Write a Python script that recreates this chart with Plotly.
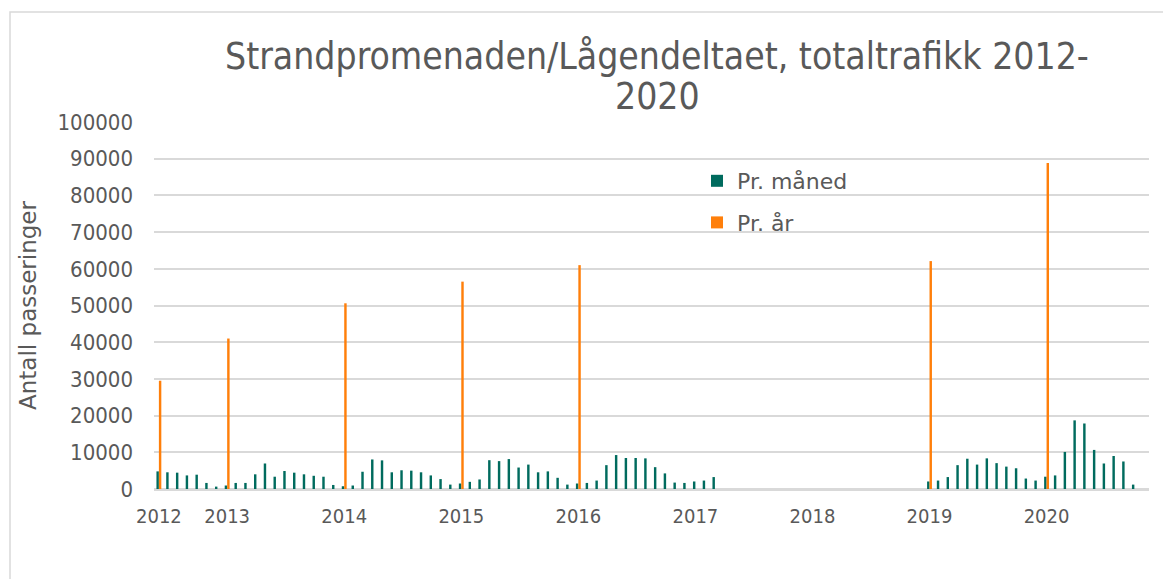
import plotly.graph_objects as go

# Categories: months from June 2012 to November 2020
months = []
for y in range(2012, 2021):
    for m in range(1, 13):
        if (y == 2012 and m < 6) or (y == 2020 and m > 11):
            continue
        months.append(f"{y}-{m:02d}")

# Monthly traffic (Jun 2012 - Apr 2017, then Jan 2019 - Oct 2020)
monthly_2012_2017 = [4800, 4550, 4450, 3700, 3900, 1650, 650,
                     950, 1650, 1650, 4000, 6950, 3350, 4900, 4450, 4000, 3600, 3350, 1100,
                     750, 950, 4700, 8050, 7800, 4550, 5100, 5000, 4550, 3700, 2700, 1200,
                     1500, 1950, 2600, 7850, 7600, 8150, 5850, 6650, 4550, 4800, 3050, 1200,
                     1500, 1650, 2300, 6500, 9250, 8450, 8450, 8350, 5950, 4250, 1750, 1650,
                     2050, 2300, 3250]
monthly_2019_2020 = [2050, 2300, 3250, 6500, 8250, 6650, 8350, 7050, 6100, 5650, 2850, 2300,
                     3350, 3700, 10100, 18700, 17850, 10650, 6950, 9000, 7500, 1200]

# Yearly totals, placed at the first month of each year
year_months = ["2012-06", "2013-01", "2014-01", "2015-01", "2016-01", "2019-01", "2020-01"]
yearly = [29500, 41000, 50600, 56500, 61000, 62100, 88800]

tick_months = ["2012-06", "2013-01", "2014-01", "2015-01", "2016-01", "2017-01", "2018-01", "2019-01", "2020-01"]
tick_labels = ["2012", "2013", "2014", "2015", "2016", "2017", "2018", "2019", "2020"]

title_line1 = "Strandpromenaden/Lågendeltaet, totaltrafikk 2012-"
title_line2 = "2020"

monthly_map = {}
for i, v in enumerate(monthly_2012_2017):
    monthly_map[months[i]] = v
start19 = months.index("2019-01")
for i, v in enumerate(monthly_2019_2020):
    monthly_map[months[start19 + i]] = v
monthly_vals = [monthly_map.get(m) for m in months]
yearly_map = dict(zip(year_months, yearly))
yearly_vals = [yearly_map.get(m) for m in months]

FONT = "DejaVu Sans Condensed, Noto Sans, sans-serif"
FONT_W = "DejaVu Sans, Verdana, sans-serif"
TXT = "#595959"

fig = go.Figure()
fig.add_trace(go.Bar(x=months, y=monthly_vals, name="Pr. måned", marker_color="#006B5E",
                     marker_line_width=0, legendgroup="a"))
fig.add_trace(go.Bar(x=months, y=yearly_vals, name="Pr. år", marker_color="#FF7F0A",
                     marker_line_width=0, legendgroup="b"))

# page has an 8px body offset
OFF = 8
W, H = 1171 - OFF, 579 - OFF
L, R, T, B = 154 - OFF, 22, 122 - OFF, 90
pw = W - L - R
ph = H - T - B
PX0, PY1 = 154, 489  # plot area left / bottom in page pixels


def px(p):
    return (p - PX0) / pw


def py(p):
    return (PY1 - p) / ph


fig.update_layout(
    width=W, height=H,
    margin=dict(l=L, r=R, t=T, b=B),
    paper_bgcolor="white", plot_bgcolor="white",
    barmode="group", bargap=0.5, bargroupgap=0,
    font=dict(family=FONT, color=TXT),
    showlegend=True,
    legend=dict(x=px(697), y=py(160), xanchor="left", yanchor="top",
                font=dict(size=22, color=TXT, family=FONT_W), bgcolor="rgba(0,0,0,0)",
                traceorder="grouped", tracegroupgap=10),
    xaxis=dict(type="category", categoryorder="array", categoryarray=months,
               tickmode="array", tickvals=tick_months, ticktext=tick_labels,
               tickfont=dict(size=20, color=TXT), showgrid=False, ticks="",
               ticklabelstandoff=8,
               showline=True, linecolor="#D9D9D9", linewidth=2,
               range=[-0.5, len(months) - 0.5]),
    yaxis=dict(range=[0, 100000], dtick=10000, tickformat="d",
               showgrid=True, gridcolor="#D9D9D9", gridwidth=2,
               zeroline=True, zerolinecolor="#D9D9D9", zerolinewidth=2,
               tickfont=dict(size=22, color=TXT), ticks="", ticklabelstandoff=20,
               title=dict(text="Antall passeringer", font=dict(size=23, color=TXT, family=FONT_W),
                          standoff=14)),
)

# Title (two lines, tight spacing as in the reference)
fig.add_annotation(text=title_line1, xref="paper", yref="paper", x=px(657), y=py(57),
                   xanchor="center", yanchor="middle", showarrow=False,
                   font=dict(size=37, color=TXT, family=FONT))
fig.add_annotation(text=title_line2, xref="paper", yref="paper", x=px(657), y=py(96),
                   xanchor="center", yanchor="middle", showarrow=False,
                   font=dict(size=37, color=TXT, family=FONT))

# outer chart border (left and top visible)
fig.add_shape(type="rect", xref="paper", yref="paper",
              x0=px(10), x1=px(1200), y0=py(620), y1=py(12),
              line=dict(color="#D9D9D9", width=1.5), fillcolor="rgba(0,0,0,0)", layer="below")

fig.write_html("out.html")
